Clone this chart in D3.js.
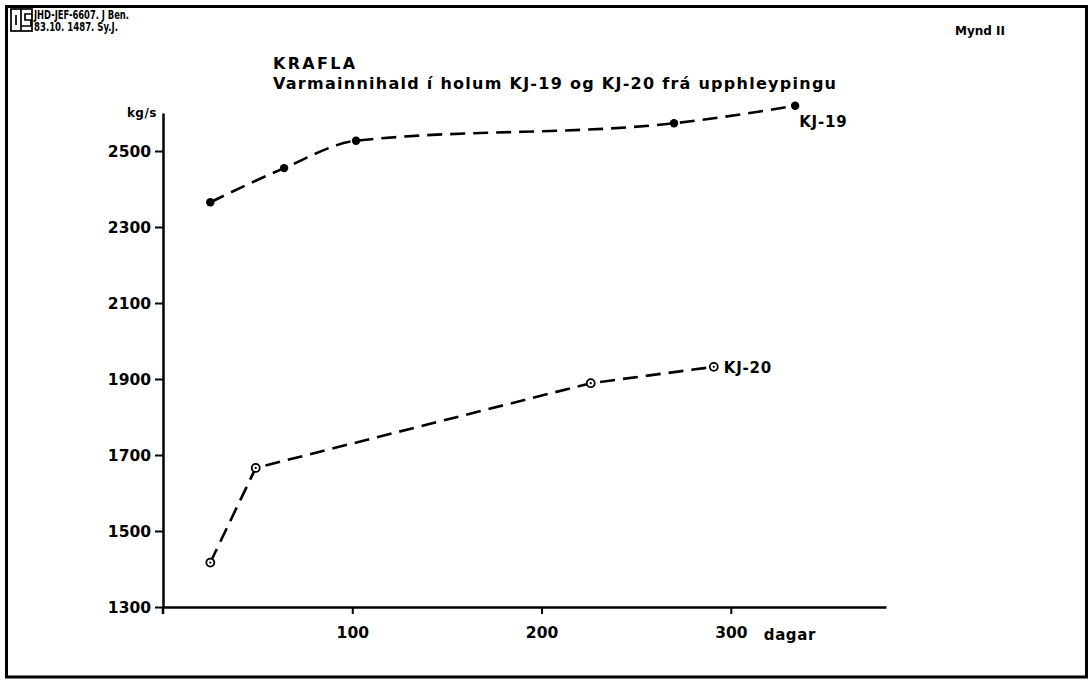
<!DOCTYPE html>
<html>
<head>
<meta charset="utf-8">
<script src="https://cdn.jsdelivr.net/npm/d3@7"></script>
<style>
  html, body { margin: 0; padding: 0; background: #fff; }
  svg text { font-family: "DejaVu Sans", sans-serif; font-weight: bold; fill: #000; }
</style>
</head>
<body>
<svg id="chart" width="1091" height="684"></svg>
<script>
// ---- data ----
const kj19Days  = [25, 64, 102, 270, 334];
const kj19Flow  = [2365, 2455, 2527, 2573, 2619];
const kj20Days  = [25, 49, 226, 291];
const kj20Flow  = [1417, 1666, 1889, 1932];
const yTicks    = [1300, 1500, 1700, 1900, 2100, 2300, 2500];
const xTicks    = [100, 200, 300];
const seriesNames = ["KJ-19", "KJ-20"];
const titleText = "KRAFLA";
const subtitleText = "Varmainnihald í holum KJ-19 og KJ-20 frá upphleypingu";
const yUnit = "kg/s";
const xUnit = "dagar";
const headerLines = ["JHD-JEF-6607. J Ben.", "83.10. 1487. Sy.J."];
const figLabel = "Mynd II";

const svg = d3.select("#chart");

// frame
svg.append("rect").attr("x", 6.5).attr("y", 6.5).attr("width", 1080).attr("height", 670.5)
  .attr("fill", "none").attr("stroke", "#000").attr("stroke-width", 3);

// logo
const logo = svg.append("g").attr("fill", "none").attr("stroke", "#000").attr("stroke-width", 1.7);
logo.append("rect").attr("x", 11).attr("y", 9).attr("width", 21).attr("height", 22);
logo.append("line").attr("x1", 21).attr("y1", 9).attr("x2", 21).attr("y2", 31);
logo.append("line").attr("x1", 16).attr("y1", 15).attr("x2", 16).attr("y2", 25);
logo.append("path").attr("d", "M32,14 H25 V20 H31 V26 H21");

const hdrWidths = [95, 84];
svg.selectAll("text.hdr").data(headerLines).enter().append("text").attr("class", "hdr")
  .attr("x", 34).attr("y", (d, i) => 18.5 + i * 12.5)
  .style("font-size", "12px")
  .attr("textLength", (d, i) => hdrWidths[i]).attr("lengthAdjust", "spacingAndGlyphs")
  .text(d => d);

svg.append("text").attr("x", 955).attr("y", 35).style("font-size", "13px")
  .attr("textLength", 50).attr("lengthAdjust", "spacingAndGlyphs").text(figLabel);

// titles
svg.append("text").attr("x", 273).attr("y", 69).style("font-size", "16px")
  .style("letter-spacing", "2.3px").text(titleText);
svg.append("text").attr("x", 273).attr("y", 89).style("font-size", "16px")
  .attr("textLength", 563).attr("lengthAdjust", "spacing").text(subtitleText);

// scales
const x = d3.scaleLinear().domain([0, 382]).range([163, 886]);
const y = d3.scaleLinear().domain([1300, 2600]).range([607, 113]);

// y axis
const yAxis = svg.append("g").attr("transform", `translate(${x(0)},0)`)
  .call(d3.axisLeft(y).tickValues(yTicks).tickSize(8).tickSizeOuter(0).tickPadding(4)
        .tickFormat(d3.format("d")));
yAxis.select(".domain").attr("stroke-width", 2.5);
yAxis.selectAll(".tick line").attr("stroke-width", 2);
yAxis.selectAll(".tick text").style("font-size", "15.5px").style("font-family", "DejaVu Sans")
  .style("font-weight", "bold").attr("dy", "0.36em");

// extension of y axis below x axis
svg.append("line").attr("x1", x(0)).attr("x2", x(0)).attr("y1", y(1300)).attr("y2", y(1300) + 7)
  .attr("stroke", "#000").attr("stroke-width", 2.5);

// x axis
const xAxis = svg.append("g").attr("transform", `translate(0,${y(1300)})`)
  .call(d3.axisBottom(x).tickValues(xTicks).tickSize(7).tickSizeOuter(0).tickPadding(13)
        .tickFormat(d3.format("d")));
xAxis.select(".domain").attr("stroke-width", 2.5);
xAxis.selectAll(".tick line").attr("stroke-width", 2);
xAxis.selectAll(".tick text").style("font-size", "15.5px").style("font-family", "DejaVu Sans")
  .style("font-weight", "bold");

svg.append("text").attr("x", x(300) + 33).attr("y", 640).style("font-size", "15px")
  .style("letter-spacing", "0.6px").text(xUnit);
svg.append("text").attr("x", x(0) - 6).attr("y", 117).attr("text-anchor", "end")
  .style("font-size", "12px").style("letter-spacing", "0.5px").text(yUnit);

// lines
const s19 = kj19Days.map((d, i) => [d, kj19Flow[i]]);
const s20 = kj20Days.map((d, i) => [d, kj20Flow[i]]);

svg.append("path").datum(s19)
  .attr("d", d3.line().x(d => x(d[0])).y(d => y(d[1])).curve(d3.curveMonotoneX))
  .attr("fill", "none").attr("stroke", "#000").attr("stroke-width", 2.6)
  .attr("stroke-dasharray", "15 8");
svg.append("path").datum(s20)
  .attr("d", d3.line().x(d => x(d[0])).y(d => y(d[1])))
  .attr("fill", "none").attr("stroke", "#000").attr("stroke-width", 2.6)
  .attr("stroke-dasharray", "15 8");

// markers
svg.selectAll("circle.p19").data(s19).enter().append("circle").attr("class", "p19")
  .attr("cx", d => x(d[0])).attr("cy", d => y(d[1])).attr("r", 4.2).attr("fill", "#000");

svg.selectAll("circle.p20").data(s20).enter().append("circle").attr("class", "p20")
  .attr("cx", d => x(d[0])).attr("cy", d => y(d[1])).attr("r", 4)
  .attr("fill", "#fff").attr("stroke", "#000").attr("stroke-width", 1.8);
svg.selectAll("circle.p20c").data(s20).enter().append("circle").attr("class", "p20c")
  .attr("cx", d => x(d[0])).attr("cy", d => y(d[1])).attr("r", 1.1).attr("fill", "#000");

// series labels
const last19 = s19[s19.length - 1], last20 = s20[s20.length - 1];
svg.append("text").attr("x", x(last19[0]) + 4).attr("y", y(last19[1]) + 21)
  .style("font-size", "15px").style("letter-spacing", "0.8px").text(seriesNames[0]);
svg.append("text").attr("x", x(last20[0]) + 10).attr("y", y(last20[1]) + 6)
  .style("font-size", "15px").style("letter-spacing", "0.8px").text(seriesNames[1]);
</script>
</body>
</html>
